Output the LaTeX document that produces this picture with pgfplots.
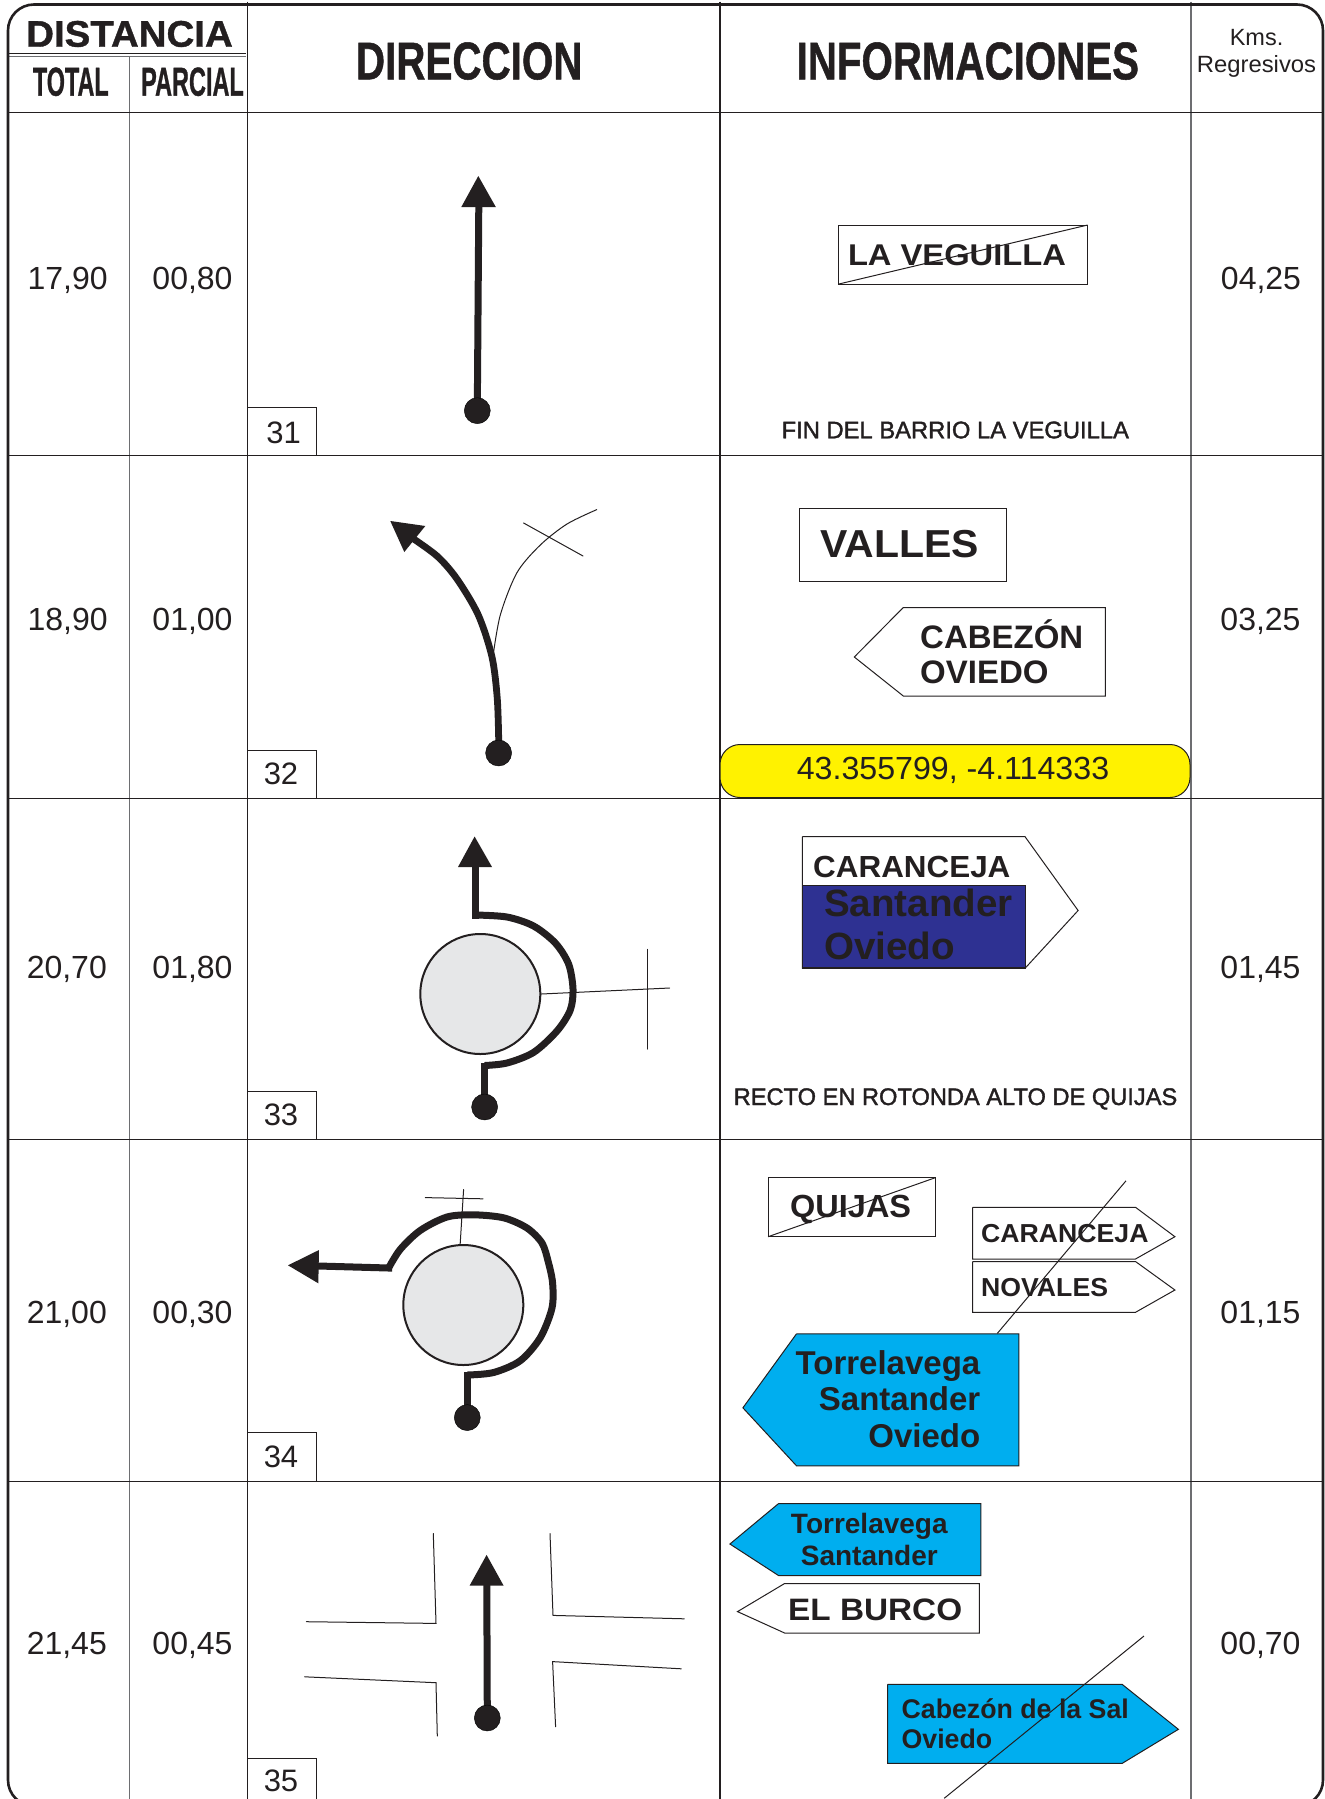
\documentclass[border=0pt]{standalone}
\usepackage{graphicx}
\usepackage{fontspec}
\setmainfont{Liberation Sans}
\newfontfamily\strk[FakeBold=1.6]{Liberation Sans}
\newfontfamily\hbf[FakeBold=1]{Liberation Sans Bold}
\usepackage{pgfplots}
\pgfplotsset{compat=1.18}
\definecolor{ink}{HTML}{231F20}
\definecolor{gline}{HTML}{6D6E71}
\definecolor{rb}{HTML}{E6E7E8}
\definecolor{cyanS}{HTML}{00AEEF}
\definecolor{navyS}{HTML}{2E3192}
\definecolor{yel}{HTML}{FFF200}
\newcommand{\txt}[6]{\node[anchor=#5,inner sep=0pt,text=ink] at (axis cs:#1,#2) {\fontsize{#3}{#3}\selectfont\scalebox{#4}[1]{#6}};}
\newcommand{\btxt}[6]{\node[anchor=#5,inner sep=0pt,text=ink] at (axis cs:#1,#2) {\fontsize{#3}{#3}\selectfont\bfseries\scalebox{#4}[1]{#6}};}
\newcommand{\htxt}[6]{\node[anchor=#5,inner sep=0pt,text=ink] at (axis cs:#1,#2) {\fontsize{#3}{#3}\selectfont\hbf\scalebox{#4}[1]{#6}};}
\newcommand{\stxt}[6]{\node[anchor=#5,inner sep=0pt,text=ink] at (axis cs:#1,#2) {\fontsize{#3}{#3}\selectfont\strk\scalebox{#4}[1]{#6}};}
\tikzset{
 frameL/.style={ink,line width=2.6pt},
 rowL/.style={ink,line width=1.3pt},
 colL/.style={ink,line width=1.1pt},
 colG/.style={gline,line width=1.1pt},
 signL/.style={ink,line width=1pt},
 thinL/.style={ink,line width=1pt,line cap=round},
 thick1/.style={ink,line width=7pt,line cap=rect,line join=miter},
 headF/.style={fill=ink,draw=none},
}
\newcommand{\dotmark}[1]{\addplot[only marks,mark=*,mark size=13pt,mark options={fill=ink,draw=none}] coordinates {#1};}
\begin{document}
\begin{tikzpicture}
\begin{axis}[scale only axis,width=1325pt,height=1799pt,
 xmin=0,xmax=1325,ymin=0,ymax=1799,y dir=reverse,
 axis line style={draw=none},xtick=\empty,ytick=\empty,clip=true]

% --- table grid
\addplot[colG] coordinates {(129.8,56.5)(129.8,1806)};
\addplot[colL] coordinates {(247.3,1.5)(247.3,1806)};
\addplot[colL] coordinates {(720,1.5)(720,1806)};
\addplot[colG] coordinates {(1191,1.5)(1191,1806)};
\addplot[ink,line width=1.1pt] coordinates {(8,53.3)(246,53.3)};
\addplot[gline,line width=1.1pt] coordinates {(8,56.7)(246,56.7)};
\addplot[rowL] coordinates {(8,112.7)(1323,112.7)};
\addplot[rowL] coordinates {(8,455.4)(1323,455.4)};
\addplot[rowL] coordinates {(8,798.2)(1323,798.2)};
\addplot[rowL] coordinates {(8,1139.5)(1323,1139.5)};
\addplot[rowL] coordinates {(8,1481.3)(1323,1481.3)};
\addplot[frameL,rounded corners=26pt] coordinates {(300,4.5)(1323,4.5)(1323,1806)(8,1806)(8,4.5)(300,4.5)};

% --- number boxes
\addplot[signL] coordinates {(247,407.3)(316.5,407.3)(316.5,455)};
\addplot[signL] coordinates {(247,750)(316.5,750)(316.5,798)};
\addplot[signL] coordinates {(247,1091)(316.5,1091)(316.5,1139)};
\addplot[signL] coordinates {(247,1432)(316.5,1432)(316.5,1481)};
\addplot[signL] coordinates {(247,1758)(316.5,1758)(316.5,1799)};

% --- row 31 route
\addplot[ink,line width=7pt] coordinates {(477.3,410)(478.8,205)};
\addplot[headF] coordinates {(478.3,176)(461.3,207)(495.8,207)(478.3,176)};
\dotmark{(477.3,410.7)}

% --- row 32 route
\addplot[ink,line width=1pt,smooth] coordinates {(492.6,659)(500.3,615)(517,572.6)(540.3,545)(567,524)(597,509.5)};
\addplot[thinL] coordinates {(523.6,523)(583,556)};
\addplot[ink,line width=6.8pt,smooth] coordinates {(498.8,745)(497.3,699)(492,657)(478.3,615)(457,579)(437,556)(409.3,536)};
\addplot[headF] coordinates {(390.3,521)(425.3,526)(404.3,552)(390.3,521)};
\dotmark{(498.6,753)}

% --- row 33 route
\addplot[thinL] coordinates {(541.3,994)(669.6,988)};
\addplot[thinL] coordinates {(647,949.3)(647,1049)};
\addplot[only marks,mark=*,mark size=60pt,mark options={fill=rb,draw=ink,line width=2pt}] coordinates {(480.3,994)};
\addplot[thick1] coordinates {(484.6,1100)(484.6,1066)};
\addplot[ink,line width=7pt,smooth] coordinates {(484.6,1065.5)(507,1063)(533.6,1052.4)(557,1031)(570.3,1010)(573,989)(568.6,964)(555.3,943)(533.6,926)(507,917)(475.3,915)};
\addplot[thick1] coordinates {(475.3,915)(475.3,867)};
\addplot[headF] coordinates {(474.6,836.5)(458,867)(492,867)(474.6,836.5)};
\dotmark{(484.6,1107)}

% --- row 34 route
\addplot[only marks,mark=*,mark size=60pt,mark options={fill=rb,draw=ink,line width=2pt}] coordinates {(463.3,1305)};
\addplot[thinL] coordinates {(463.6,1189.6)(459.3,1257.7)};
\addplot[thinL] coordinates {(425.3,1197.6)(483,1198.8)};
\addplot[thick1] coordinates {(467.3,1410)(467.3,1375.4)};
\addplot[ink,line width=7pt,smooth] coordinates {(467.3,1375)(493.6,1372.5)(520.3,1360.7)(540.3,1337.6)(552,1308)(552.6,1283)(548.3,1262)(542,1243)(527,1228)(503.6,1217.8)(473.6,1214.8)(447,1217)(420.3,1230.4)(400.3,1249.3)(388.6,1268)};
\addplot[thick1] coordinates {(388.6,1268)(318.6,1266)};
\addplot[headF] coordinates {(288,1265.3)(319,1250)(318.3,1283.3)(288,1265.3)};
\dotmark{(467.3,1417.6)}

% --- row 35 route
\addplot[thinL] coordinates {(306.3,1621.7)(436,1623.4)(433.3,1533.5)};
\addplot[thinL] coordinates {(304.6,1676.8)(436,1682.7)(437.3,1736)};
\addplot[thinL] coordinates {(550,1533.5)(553,1615.4)(684.3,1618.8)};
\addplot[thinL] coordinates {(681.3,1668.8)(552.6,1661.6)(555.6,1726.8)};
\addplot[ink,line width=7pt] coordinates {(487.3,1715)(486.8,1585)};
\addplot[headF] coordinates {(486.6,1554.9)(469.6,1585.6)(503.6,1585.6)(486.6,1554.9)};
\dotmark{(487.3,1718)}

% --- signs row 31
\addplot[signL] coordinates {(838.9,225)(1087.7,225)(1087.7,284)(838.9,284)(838.9,225)};
\addplot[signL] coordinates {(838.9,284)(1087.7,225)};

% --- signs row 32
\addplot[signL] coordinates {(799.5,508)(1006.9,508)(1006.9,581.9)(799.5,581.9)(799.5,508)};
\addplot[signL] coordinates {(903.3,607.5)(1105.3,607.5)(1105.3,696)(903.3,696)(854.3,657)(903.3,607.5)};
\addplot[ink,line width=1pt,fill=yel,rounded corners=20pt] coordinates {(950,744.5)(1190,744.5)(1190,797.5)(720,797.5)(720,744.5)(950,744.5)};

% --- signs row 33
\addplot[signL] coordinates {(802.3,836.5)(1024.9,836.5)(1078.1,910.5)(1025.3,968)(802.3,968)(802.3,836.5)};
\addplot[ink,line width=1.3pt,fill=navyS] coordinates {(802.3,885.3)(1025.3,885.3)(1025.3,968)(802.3,968)(802.3,885.3)};

% --- signs row 34
\addplot[signL] coordinates {(768.1,1177.8)(935,1177.8)(935,1236.7)(768.1,1236.7)(768.1,1177.8)};
\addplot[signL] coordinates {(768.1,1236.7)(935,1177.8)};
\addplot[signL] coordinates {(972.5,1207.3)(1135.5,1207.3)(1174.9,1236.7)(1135.5,1259)(972.5,1259)(972.5,1207.3)};
\addplot[signL] coordinates {(972.5,1261.5)(1135.5,1261.5)(1174.9,1290)(1135.5,1312.3)(972.5,1312.3)(972.5,1261.5)};
\addplot[ink,line width=1pt,fill=cyanS] coordinates {(796.5,1333.8)(1018.8,1333.8)(1018.8,1465.8)(796.5,1465.8)(742.9,1407.8)(796.5,1333.8)};
\addplot[signL] coordinates {(1126,1180.8)(997.3,1333.4)};

% --- signs row 35
\addplot[ink,line width=1pt,fill=cyanS] coordinates {(778.5,1503.6)(980.9,1503.6)(980.9,1575.5)(778.5,1575.5)(729.9,1544)(778.5,1503.6)};
\addplot[signL] coordinates {(784.6,1583.5)(979.3,1583.5)(979.3,1633)(784.6,1633)(737.5,1611.6)(784.6,1583.5)};
\addplot[ink,line width=1pt,fill=cyanS] coordinates {(887.5,1684.3)(1122.1,1684.3)(1178.4,1729.3)(1122.1,1763.4)(887.5,1763.4)(887.5,1684.3)};
\addplot[signL] coordinates {(1144,1636)(944.2,1798.3)};

% --- header
\htxt{129.5}{46.7}{37}{1.04}{base}{DISTANCIA}
\htxt{70.8}{95.7}{40.5}{0.577}{base}{TOTAL}
\htxt{192.5}{95.7}{40.5}{0.58}{base}{PARCIAL}
\htxt{469.2}{79.3}{53}{0.762}{base}{DIRECCION}
\htxt{967.8}{79.3}{53}{0.76}{base}{INFORMACIONES}
\txt{1256.5}{45.7}{23.5}{1}{base}{Kms.}
\txt{1256.5}{72.3}{23.5}{1.015}{base}{Regresivos}

% --- values
\txt{67.6}{289}{32}{1}{base}{17,90}
\txt{192.5}{289}{32}{1}{base}{00,80}
\txt{1261}{289}{32}{1}{base}{04,25}
\txt{67.6}{630}{32}{1}{base}{18,90}
\txt{192.5}{630}{32}{1}{base}{01,00}
\txt{1260.5}{630}{32}{1}{base}{03,25}
\txt{66.8}{978}{32}{1}{base}{20,70}
\txt{192.5}{978}{32}{1}{base}{01,80}
\txt{1260.5}{978}{32}{1}{base}{01,45}
\txt{66.8}{1323}{32}{1}{base}{21,00}
\txt{192.5}{1323}{32}{1}{base}{00,30}
\txt{1260.5}{1323}{32}{1}{base}{01,15}
\txt{66.8}{1654}{32}{1}{base}{21,45}
\txt{192.5}{1654}{32}{1}{base}{00,45}
\txt{1260.5}{1654}{32}{1}{base}{00,70}

% --- numbers
\txt{283.6}{443}{31}{1}{base}{31}
\txt{281}{784}{31}{1}{base}{32}
\txt{281}{1125}{31}{1}{base}{33}
\txt{281}{1467}{31}{1}{base}{34}
\txt{281}{1791.5}{31}{1}{base}{35}

% --- sign texts
\btxt{847.8}{265.7}{30}{1.09}{base west}{LA VEGUILLA}
\stxt{955.3}{438.3}{24}{0.99}{base}{FIN DEL BARRIO LA VEGUILLA}
\btxt{820}{557.9}{39}{1.05}{base west}{VALLES}
\btxt{920}{648.4}{32.5}{1.015}{base west}{CABEZÓN}
\btxt{920}{683.7}{32.5}{1.015}{base west}{OVIEDO}
\txt{953}{779.7}{32}{1.005}{base}{43.355799, -4.114333}
\btxt{813}{877.7}{30.5}{1.03}{base west}{CARANCEJA}
\btxt{824}{916.9}{38}{1.015}{base west}{Santander}
\btxt{824}{959}{38}{1.015}{base west}{Oviedo}
\stxt{955.5}{1105}{24}{0.985}{base}{RECTO EN ROTONDA ALTO DE QUIJAS}
\btxt{790}{1217.8}{32}{1.015}{base west}{QUIJAS}
\btxt{981}{1242}{26}{1.025}{base west}{CARANCEJA}
\btxt{981}{1296.4}{26}{1.025}{base west}{NOVALES}
\btxt{980.5}{1374.6}{33}{1}{base east}{Torrelavega}
\btxt{980.5}{1410.7}{33}{1}{base east}{Santander}
\btxt{980.5}{1447.7}{33}{1}{base east}{Oviedo}
\btxt{869.3}{1533.9}{28}{1}{base}{Torrelavega}
\btxt{869.3}{1565.8}{28}{1}{base}{Santander}
\btxt{788}{1620.5}{31}{1.075}{base west}{EL BURCO}
\btxt{901.4}{1718.8}{27}{0.99}{base west}{Cabezón de la Sal}
\btxt{901.4}{1748.2}{27}{0.99}{base west}{Oviedo}
\end{axis}
\end{tikzpicture}
\end{document}
